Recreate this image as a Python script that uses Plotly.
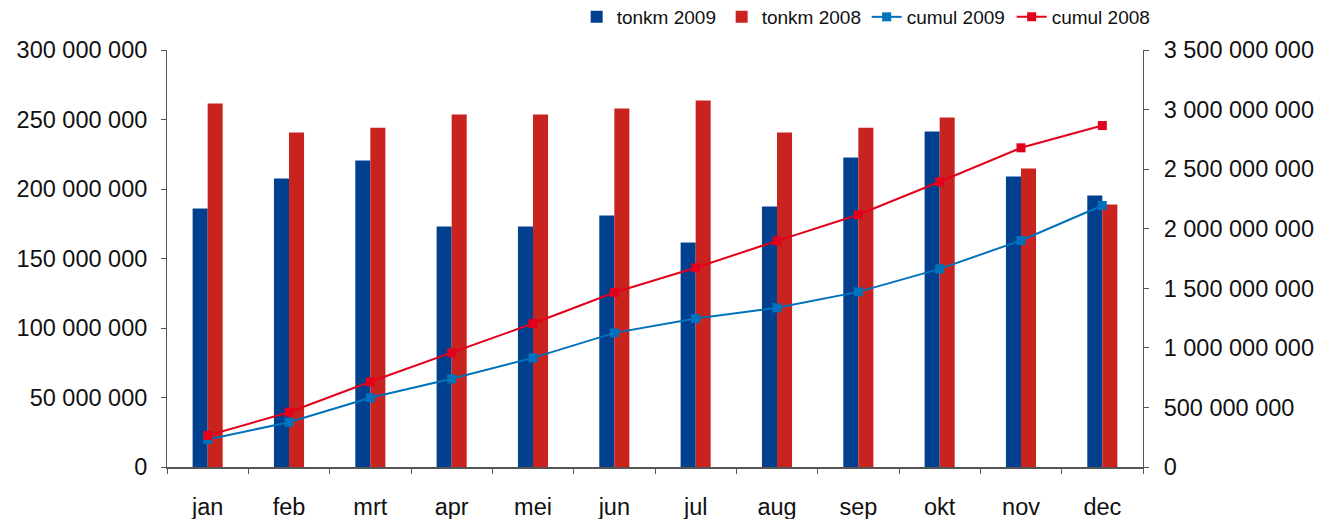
import plotly.graph_objects as go

months = ["jan", "feb", "mrt", "apr", "mei", "jun", "jul", "aug", "sep", "okt", "nov", "dec"]

tonkm_2009 = [186e6, 207.5e6, 220.5e6, 173e6, 173e6, 181e6, 161.5e6, 187.4e6, 222.7e6, 241.4e6, 209e6, 195.3e6]
tonkm_2008 = [261.5e6, 240.6e6, 244e6, 253.6e6, 253.6e6, 258e6, 263.7e6, 240.6e6, 244e6, 251.4e6, 214.7e6, 188.8e6]

cumul_2009 = [231e6, 376e6, 581e6, 740e6, 916e6, 1126e6, 1246e6, 1336e6, 1470e6, 1663e6, 1901e6, 2195e6]
cumul_2008 = [264e6, 460e6, 715e6, 958e6, 1204e6, 1465e6, 1672e6, 1898e6, 2117e6, 2394e6, 2679e6, 2866e6]

left_ticks = [0, 50e6, 100e6, 150e6, 200e6, 250e6, 300e6]
left_labels = ["0", "50 000 000", "100 000 000", "150 000 000", "200 000 000", "250 000 000", "300 000 000"]
right_ticks = [0, 500e6, 1000e6, 1500e6, 2000e6, 2500e6, 3000e6, 3500e6]
right_labels = ["0", "500 000 000", "1 000 000 000", "1 500 000 000", "2 000 000 000",
                "2 500 000 000", "3 000 000 000", "3 500 000 000"]

FONT = "Liberation Sans, Arial, Helvetica, sans-serif"
AXIS_COLOR = "#555555"
TICK_SIZE = 23.5

fig = go.Figure()
fig.add_trace(go.Bar(x=months, y=tonkm_2009, name="tonkm 2009", marker_color="#00408F",
                     marker_line_width=0))
fig.add_trace(go.Bar(x=months, y=tonkm_2008, name="tonkm 2008", marker_color="#C8231F",
                     marker_line_width=0))
fig.add_trace(go.Scatter(x=months, y=cumul_2009, name="cumul 2009", yaxis="y2",
                         mode="lines+markers", line=dict(color="#0072BC", width=2),
                         marker=dict(symbol="square", size=9, color="#0072BC")))
fig.add_trace(go.Scatter(x=months, y=cumul_2008, name="cumul 2008", yaxis="y2",
                         mode="lines+markers", line=dict(color="#E3001B", width=2),
                         marker=dict(symbol="square", size=9, color="#E3001B")))

fig.update_layout(
    width=1323, height=519,
    margin=dict(l=167, r=180, t=50, b=52),
    paper_bgcolor="white", plot_bgcolor="white",
    font=dict(family=FONT, color="#111111", size=TICK_SIZE),
    barmode="group", bargap=0.63, bargroupgap=0,
    showlegend=True,
    legend=dict(orientation="h", xref="paper", x=1.014, xanchor="right",
                yref="container", y=1 - 17 / 519, yanchor="middle",
                font=dict(size=19, color="#111111"), traceorder="normal",
                itemwidth=30, entrywidth=100, entrywidthmode="pixels",
                bgcolor="rgba(0,0,0,0)"),
    xaxis=dict(
        type="category", range=[-0.5, 11.5], automargin=False,
        showgrid=False, showline=True, linecolor=AXIS_COLOR, linewidth=2,
        ticks="outside", tickson="boundaries", ticklen=5, tickcolor=AXIS_COLOR, tickwidth=1,
        tickfont=dict(size=TICK_SIZE), ticklabelstandoff=18,
    ),
    yaxis=dict(
        range=[0, 300e6], tickvals=left_ticks, ticktext=left_labels, automargin=False,
        showgrid=False, zeroline=False, showline=True, linecolor=AXIS_COLOR, linewidth=1,
        ticks="outside", ticklen=5, tickcolor=AXIS_COLOR, tickfont=dict(size=TICK_SIZE),
        ticklabelstandoff=9,
    ),
    yaxis2=dict(
        range=[0, 3500e6], tickvals=right_ticks, ticktext=right_labels, automargin=False,
        overlaying="y", side="right", showgrid=False, zeroline=False,
        showline=True, linecolor=AXIS_COLOR, linewidth=1,
        ticks="outside", ticklen=5, tickcolor=AXIS_COLOR, tickfont=dict(size=TICK_SIZE),
        ticklabelstandoff=10,
    ),
)

fig.write_html("out.html")
